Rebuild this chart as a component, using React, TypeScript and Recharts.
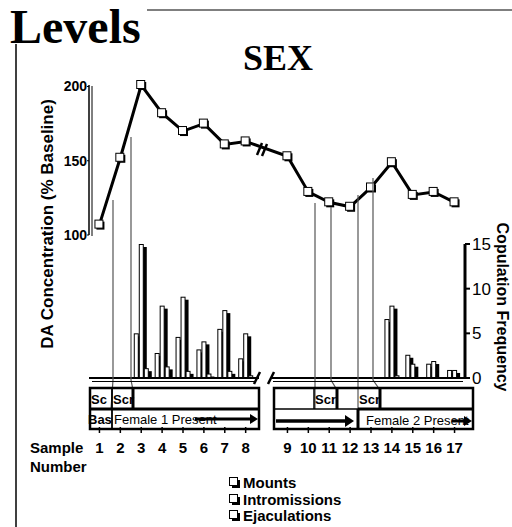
import { ComposedChart, Line, Bar, XAxis, YAxis, Legend } from 'recharts';

// sample slots along the x axis; the empty one is the axis break between 8 and 9
const samples = ['1', '2', '3', '4', '5', '6', '7', '8', '', '9', '10', '11', '12', '13', '14', '15', '16', '17'];
// DA concentration, % of baseline
const daLevel = [107, 152, 201, 182, 170, 175, 161, 163, null, 153, 129, 122, 119, 132, 149, 127, 129, 122];
// copulation frequency per sample
const mounts = [null, null, 5, 2.8, 4.6, 3.2, 5.5, 2.2, null, null, null, null, null, null, 6.6, 2.6, 1.6, 0.9];
const intromissions = [null, null, 15, 8.1, 9.1, 4.1, 7.6, 5, null, null, null, null, null, null, 8.1, 1.6, 1.9, 0.9];
const ejaculations = [null, null, 1.1, 1.3, 0.8, 0.5, 0.8, 0.3, null, null, null, null, null, null, 0.3, 0, 0, 0];
const seriesNames = ['Mounts', 'Intromissions', 'Ejaculations'];

const daTicks = [100, 150, 200];
const freqTicks = [0, 5, 10, 15];

const rows = samples.map((s, i) => ({
  sample: s,
  da: daLevel[i],
  mounts: mounts[i],
  intromissions: intromissions[i],
  ejaculations: ejaculations[i],
}));

const SANS = "'Liberation Sans', Arial, sans-serif";
const SERIF = "'Liberation Serif', 'Times New Roman', serif";

const renderDot = (p: any) => {
  const { cx, cy, index } = p;
  if (cx == null || cy == null) return <g key={index} />;
  return (
    <g key={index}>
      <rect x={cx - 3} y={cy - 3} width={8} height={8} fill="#000" />
      <rect x={cx - 4.5} y={cy - 4.5} width={8} height={8} fill="#fff" stroke="#000" strokeWidth={1} />
    </g>
  );
};

const ShadowBar = (p: any) => {
  const { x, y, width, height } = p;
  if (!height || height <= 0) return <g />;
  return (
    <g>
      <rect x={x + 3} y={y + 3} width={width} height={Math.max(height - 3, 0)} fill="#000" />
      <rect x={x + 0.5} y={y + 0.5} width={width - 1} height={height - 0.5} fill="#fff" stroke="#000" strokeWidth={1} />
    </g>
  );
};

const SampleTick = (p: any) => {
  const { x, y, payload } = p;
  if (!payload || !payload.value) return <g />;
  return (
    <g>
      <line x1={x} x2={x} y1={y + 49} y2={y + 55} stroke="#000" strokeWidth={1.5} />
      <text x={x} y={y + 70} dy="0.36em" textAnchor="middle" fontFamily={SANS} fontWeight="bold" fontSize={15} fill="#000">
        {payload.value}
      </text>
    </g>
  );
};

const renderLegend = (props: any) => {
  const items = [...(props.payload || [])].sort(
    (a: any, b: any) => seriesNames.indexOf(a.value) - seriesNames.indexOf(b.value)
  );
  return (
    <div style={{ fontFamily: SANS, fontWeight: 'bold', fontSize: 15, lineHeight: '16.5px', color: '#000' }}>
      {items.map((entry: any) => (
        <div key={entry.value} style={{ display: 'flex', alignItems: 'center' }}>
          <svg width={12} height={12} style={{ marginRight: 2 }}>
            <rect x={3} y={3} width={8} height={8} fill="#000" />
            <rect x={0.5} y={0.5} width={8} height={8} fill="#fff" stroke="#000" />
          </svg>
          {entry.value}
        </div>
      ))}
    </div>
  );
};

export default function App() {
  return (
    <div style={{ position: 'absolute', left: 0, top: 0, width: 512, height: 527, background: '#fff', overflow: 'hidden' }}>
      <div style={{ position: 'absolute', left: 0, top: 0 }}>
        <ComposedChart width={512} height={527} data={rows} margin={{ top: 244, right: 7, bottom: 0, left: 89 }} barGap={0} barSize={5}>
          <XAxis dataKey="sample" height={149} interval={0} tickSize={0} tickMargin={0} tickLine={false}
            axisLine={{ stroke: '#000', strokeWidth: 2 }} tick={<SampleTick />} />
          <YAxis yAxisId="freq" orientation="right" domain={[0, 15]} ticks={freqTicks} width={40} tickSize={5} tickMargin={2}
            axisLine={{ stroke: '#000', strokeWidth: 3 }} tickLine={{ stroke: '#000', strokeWidth: 2 }}
            tick={{ fill: '#000', fontSize: 17, fontFamily: SANS }} />
          <Bar yAxisId="freq" dataKey="mounts" name={seriesNames[0]} shape={ShadowBar} isAnimationActive={false} />
          <Bar yAxisId="freq" dataKey="intromissions" name={seriesNames[1]} shape={ShadowBar} isAnimationActive={false} />
          <Bar yAxisId="freq" dataKey="ejaculations" name={seriesNames[2]} shape={ShadowBar} isAnimationActive={false} />
          <Legend layout="vertical" verticalAlign="middle" align="center" content={renderLegend}
            wrapperStyle={{ left: 229, top: 475, width: 140 }} />
        </ComposedChart>
      </div>
      <div style={{ position: 'absolute', left: 0, top: 0 }}>
        <ComposedChart width={512} height={245} data={rows} margin={{ top: 85, right: 47, bottom: 10, left: 29 }}>
          <XAxis dataKey="sample" hide scale="band" />
          <YAxis yAxisId="da" domain={[100, 200]} ticks={daTicks} width={60} tickSize={2} tickMargin={0}
            axisLine={{ stroke: '#000', strokeWidth: 1.5 }} tickLine={{ stroke: '#000' }}
            tick={{ fill: '#000', fontSize: 14, fontWeight: 'bold', fontFamily: SANS }} />
          <Line yAxisId="da" dataKey="da" stroke="#000" strokeWidth={3} connectNulls dot={renderDot} isAnimationActive={false} />
        </ComposedChart>
      </div>
      <svg width={512} height={527} style={{ position: 'absolute', left: 0, top: 0, pointerEvents: 'none' }}>
        {/* frame and titles */}
        <line x1={147} y1={10} x2={512} y2={10} stroke="#000" strokeWidth={1.2} />
        <line x1={16} y1={44} x2={16} y2={527} stroke="#000" strokeWidth={1.5} />
        <text x={10} y={43} fontFamily={SERIF} fontWeight="bold" fontSize={48} fill="#000">Levels</text>
        <text x={278} y={70} textAnchor="middle" fontFamily={SERIF} fontWeight="bold" fontSize={36} fill="#000">SEX</text>
        <text transform="translate(47,224) rotate(-90)" textAnchor="middle" dy="0.35em" fontFamily={SANS} fontWeight="bold" fontSize={17} fill="#000">
          DA Concentration (% Baseline)
        </text>
        <text transform="translate(503,307) rotate(90)" textAnchor="middle" dy="0.35em" fontFamily={SANS} fontWeight="bold" fontSize={16} fill="#000">
          Copulation Frequency
        </text>
        <line x1={92} y1={86} x2={92} y2={236} stroke="#000" strokeWidth={1} />

        {/* drop lines from the DA trace to the session boxes */}
        <g stroke="#555" strokeWidth={1.2} fill="none">
          <polyline points="113,200 113,380 111,409" />
          <polyline points="131,137 131,380 133,390" />
          <polyline points="315,203 315,409" />
          <polyline points="331,207 331,380 337,390" />
          <polyline points="358,195 358,409" />
          <polyline points="373,178 373,380 380,390" />
        </g>

        {/* axis breaks */}
        <line x1={257} y1={155} x2={262} y2={143} stroke="#000" strokeWidth={2.5} />
        <line x1={262} y1={156} x2={267} y2={144} stroke="#000" strokeWidth={2.5} />
        <rect x={259} y={371} width={12} height={13} fill="#fff" />
        <line x1={254} y1={384} x2={260} y2={372} stroke="#000" strokeWidth={2.5} />
        <line x1={268} y1={384} x2={274} y2={372} stroke="#000" strokeWidth={2.5} />
        <line x1={92} y1={381.5} x2={256} y2={381.5} stroke="#000" strokeWidth={1} />
        <line x1={273} y1={381.5} x2={463} y2={381.5} stroke="#000" strokeWidth={1} />

        {/* session boxes, female 1 */}
        <g stroke="#000" fill="none">
          <rect x={90} y={388} width={169} height={41} strokeWidth={2.5} />
          <line x1={90} y1={409} x2={259} y2={409} strokeWidth={3} />
          <line x1={112} y1={388} x2={112} y2={429} strokeWidth={1.8} />
          <line x1={133} y1={388} x2={133} y2={409} strokeWidth={3} />
          <line x1={195} y1={419} x2={251} y2={419} strokeWidth={3} />
        </g>
        <polygon points="250,414 258,419 250,424" fill="#000" />
        <g fontFamily={SANS} fontSize={13} fill="#000">
          <text x={91} y={399} dy="0.35em" fontWeight="bold">Sc</text>
          <text x={113} y={399} dy="0.35em" fontWeight="bold">Scr</text>
          <text x={88} y={419} dy="0.35em" fontWeight="bold">Bas</text>
          <text x={114} y={419} dy="0.35em">Female 1 Present</text>
        </g>

        {/* session boxes, female 2 */}
        <g stroke="#000" fill="none">
          <rect x={274} y={388} width={199} height={41} strokeWidth={2.5} />
          <line x1={274} y1={409} x2={358} y2={409} strokeWidth={1.5} />
          <line x1={358} y1={409} x2={473} y2={409} strokeWidth={3} />
          <line x1={314} y1={388} x2={314} y2={409} strokeWidth={1.5} />
          <line x1={337} y1={388} x2={337} y2={409} strokeWidth={3} />
          <line x1={380} y1={388} x2={380} y2={409} strokeWidth={3} />
          <line x1={358} y1={409} x2={358} y2={429} strokeWidth={3} />
          <line x1={276} y1={421} x2={346} y2={421} strokeWidth={3.5} />
          <line x1={452} y1={421} x2={465} y2={421} strokeWidth={3} />
        </g>
        <polygon points="345,415 354,421 345,427" fill="#000" />
        <polygon points="464,416 472,421 464,426" fill="#000" />
        <g fontFamily={SANS} fontSize={13} fill="#000">
          <text x={315} y={399} dy="0.35em" fontWeight="bold">Scr</text>
          <text x={359} y={399} dy="0.35em" fontWeight="bold">Scr</text>
          <text x={366} y={420} dy="0.35em">Female 2 Present</text>
        </g>

        <g fontFamily={SANS} fontWeight="bold" fontSize={15} fill="#000">
          <text x={30} y={448} dy="0.36em">Sample</text>
          <text x={30} y={467} dy="0.36em">Number</text>
        </g>
      </svg>
    </div>
  );
}
